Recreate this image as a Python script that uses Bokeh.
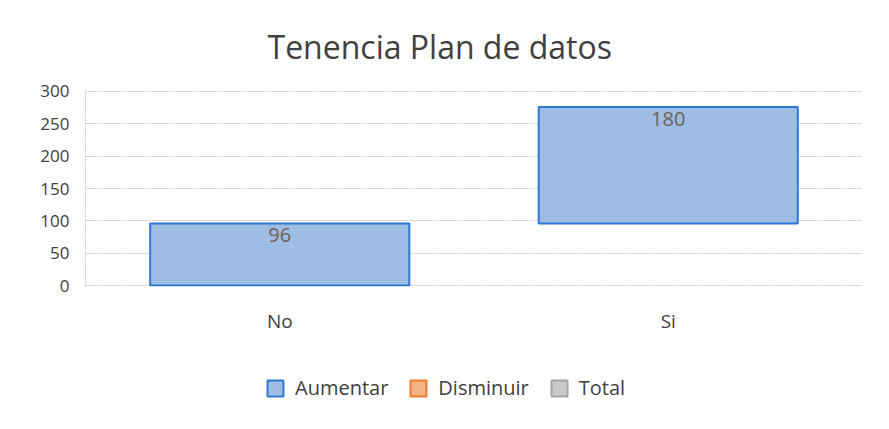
from bokeh.plotting import figure
from bokeh.layouts import column
from bokeh.models import ColumnDataSource, Range1d, FactorRange, Legend, LegendItem, Title
from bokeh.core.properties import value
from bokeh.embed import file_html
from bokeh.resources import INLINE

# ---- data ----
categories = ["No", "Si"]
increments = [96, 180]
legend_labels = ["Aumentar", "Disminuir", "Total"]
y_ticks = [0, 50, 100, 150, 200, 250, 300]
title_text = "Tenencia Plan de datos"

bottoms = []
tops = []
run = 0
for v in increments:
    bottoms.append(run)
    run += v
    tops.append(run)

FONT = "Open Sans"
NAN = float("nan")

src = ColumnDataSource(dict(
    cat=categories, bottom=bottoms, top=tops,
    label=[str(v) for v in increments],
))

p = figure(
    width=889, height=360,
    x_range=FactorRange(factors=categories, range_padding=0),
    y_range=Range1d(-1.5, 301.5),
    output_backend="svg", toolbar_location=None,
    min_border_left=85, min_border_right=27,
    min_border_top=89, min_border_bottom=74,
    outline_line_color=None,
)

t = Title(text=title_text, align="left", offset=182, text_font=FONT,
          text_font_size="32px", text_font_style="normal",
          text_color="#404040", standoff=45)
p.add_layout(t, "above")

# bars
p.vbar(x="cat", bottom="bottom", top="top", width=0.667, source=src,
       fill_color="#9ebde5", line_color="#2e78d2", line_width=2)

# labels
p.text(x="cat", y="top", text="label", source=src,
       text_font=value(FONT), text_font_size="20px", text_color="#6b6259",
       text_align="center", text_baseline="top", y_offset=5)

# axes
p.yaxis.ticker = y_ticks
p.yaxis.major_tick_line_color = None
p.yaxis.minor_tick_line_color = None
p.yaxis.major_tick_out = 0
p.yaxis.minor_tick_out = 0
p.yaxis.axis_line_color = "#c8c8c8"
p.yaxis.axis_line_dash = "2 1"
p.yaxis.major_label_text_font = FONT
p.yaxis.major_label_text_font_size = "17px"
p.yaxis.major_label_text_color = "#404040"
p.yaxis.major_label_standoff = 16

p.xaxis.major_tick_line_color = None
p.xaxis.minor_tick_line_color = None
p.xaxis.major_tick_out = 0
p.xaxis.minor_tick_out = 0
p.xaxis.axis_line_color = None
p.xaxis.major_label_text_font = FONT
p.xaxis.major_label_text_font_size = "19px"
p.xaxis.major_label_text_color = "#404040"
p.xaxis.major_label_standoff = 21

p.xgrid.grid_line_color = None
p.ygrid.ticker = y_ticks
p.ygrid.grid_line_color = "#c8c8c8"
p.ygrid.grid_line_dash = "2 1"

# ---- legend strip (separate figure below the chart) ----
lg = figure(
    width=889, height=69,
    x_range=Range1d(0, 1), y_range=Range1d(0, 1),
    x_axis_type=None, y_axis_type=None,
    output_backend="svg", toolbar_location=None,
    min_border=0, outline_line_color=None,
)
lg.grid.visible = False
r_inc = lg.vbar(x=[NAN], bottom=[NAN], top=[NAN], width=0.1,
                fill_color="#9ebde5", line_color="#2e78d2", line_width=2)
r_dec = lg.vbar(x=[NAN], bottom=[NAN], top=[NAN], width=0.1,
                fill_color="#f4b183", line_color="#ed7d31", line_width=2)
r_tot = lg.vbar(x=[NAN], bottom=[NAN], top=[NAN], width=0.1,
                fill_color="#c9c9c9", line_color="#a5a5a5", line_width=2)

legend = Legend(items=[
    LegendItem(label=legend_labels[0], renderers=[r_inc]),
    LegendItem(label=legend_labels[1], renderers=[r_dec]),
    LegendItem(label=legend_labels[2], renderers=[r_tot]),
], orientation="horizontal", location=(180, 28),
    label_text_font=FONT, label_text_font_size="20px", label_text_color="#404040",
    glyph_width=20, glyph_height=20, label_standoff=10, spacing=20,
    border_line_color=None, background_fill_alpha=0, margin=0, padding=4)
lg.add_layout(legend, "center")

layout = column(p, lg, spacing=0)
open("out.html", "w").write(file_html(layout, INLINE))
